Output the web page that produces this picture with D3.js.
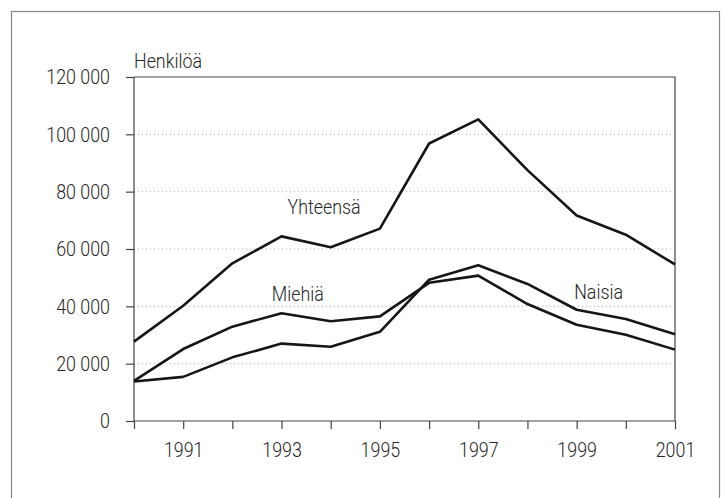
<!DOCTYPE html>
<html>
<head>
<meta charset="utf-8">
<script src="https://cdn.jsdelivr.net/npm/d3@7"></script>
<style>
  body { margin: 0; background: #fff; }
  text { font-family: Roboto, "Noto Sans", sans-serif; font-weight: 300; fill: #262626; }
</style>
</head>
<body>
<script>
// Data
var years = [1990, 1991, 1992, 1993, 1994, 1995, 1996, 1997, 1998, 1999, 2000, 2001];
var yhteensa = [27700, 40200, 55000, 64400, 60600, 67100, 96800, 105200, 87500, 71700, 65000, 54600];
var miehia = [14000, 25100, 32900, 37600, 34800, 36500, 48200, 50700, 40800, 33600, 30100, 24900];
var naisia = [13800, 15400, 22200, 27000, 25900, 31100, 49300, 54300, 47800, 38800, 35600, 30300];
var yTicks = [0, 20000, 40000, 60000, 80000, 100000, 120000];
var xLabelYears = [1991, 1993, 1995, 1997, 1999, 2001];

var seriesLabels = [
  { name: "Yhteensä", year: 1993.12, value: 72200 },
  { name: "Miehiä", year: 1992.8, value: 42000 },
  { name: "Naisia", year: 1998.95, value: 42400 }
];

var svgWidth = 724, svgHeight = 498;
var margin = { top: 77, right: 49, bottom: 77, left: 134 };
var width = svgWidth - margin.left - margin.right;
var height = svgHeight - margin.top - margin.bottom;
var squeeze = 0.85;

var svg = d3.select("body").append("svg")
  .attr("width", svgWidth)
  .attr("height", svgHeight);

// outer frame
svg.append("rect")
  .attr("x", 11.5).attr("y", 11.5)
  .attr("width", 708).attr("height", 500)
  .attr("fill", "none")
  .attr("stroke", "#888")
  .attr("stroke-width", 1.2);

var chartGroup = svg.append("g")
  .attr("transform", `translate(${margin.left}, ${margin.top})`);

var xScale = d3.scaleLinear().domain([1990, 2001]).range([0, width]);
var yScale = d3.scaleLinear().domain([0, 120000]).range([height, 0]);

// gridlines
chartGroup.selectAll(".grid")
  .data(yTicks.filter(d => d > 0 && d < 120000))
  .enter().append("line")
  .attr("class", "grid")
  .attr("x1", 0).attr("x2", width)
  .attr("y1", d => yScale(d)).attr("y2", d => yScale(d))
  .attr("stroke", "#aaa")
  .attr("stroke-width", 1)
  .attr("stroke-dasharray", "1,3");

// plot frame (top and right)
chartGroup.append("path")
  .attr("d", `M0,0H${width}V${height}`)
  .attr("fill", "none")
  .attr("stroke", "#444")
  .attr("stroke-width", 1.2);

// Axes
var fmt = d => d3.format(",")(d).replace(/,/g, " ");
var yAxis = d3.axisLeft(yScale).tickValues(yTicks).tickSize(8).tickPadding(16).tickFormat(fmt);
var xAxis = d3.axisBottom(xScale).tickValues(years).tickSize(8).tickPadding(13)
  .tickFormat(d => xLabelYears.indexOf(d) >= 0 ? d : "");

var gy = chartGroup.append("g").attr("class", "y-axis").call(yAxis);
var gx = chartGroup.append("g").attr("class", "x-axis")
  .attr("transform", `translate(0, ${height})`).call(xAxis);

[gx, gy].forEach(function(g) {
  g.attr("font-family", null).attr("font-size", null);
  g.select(".domain").attr("stroke", "#444").attr("stroke-width", 1.2);
  g.selectAll(".tick line").attr("stroke", "#444").attr("stroke-width", 1.2);
  g.selectAll("text").attr("font-size", 21).attr("fill", "#262626");
});
gx.select(".domain").attr("d", `M0,0H${width}`);
gy.select(".domain").attr("d", `M0,${height}V0`);

// Lines
var line = d3.line()
  .x((d, i) => xScale(years[i]))
  .y(d => yScale(d));

[yhteensa, miehia, naisia].forEach(function(s) {
  chartGroup.append("path")
    .datum(s)
    .attr("d", line)
    .attr("fill", "none")
    .attr("stroke", "#161616")
    .attr("stroke-width", 2.6)
    .attr("stroke-linejoin", "round");
});

// Series labels
chartGroup.selectAll(".series-label")
  .data(seriesLabels)
  .enter().append("text")
  .attr("class", "series-label")
  .attr("x", d => xScale(d.year))
  .attr("y", d => yScale(d.value))
  .attr("font-size", 21)
  .text(d => d.name);

// unit label
chartGroup.append("text")
  .attr("x", 0)
  .attr("y", -9)
  .attr("font-size", 21)
  .text("Henkilöä");

// condense all text horizontally (narrow typeface look)
svg.selectAll("text").each(function() {
  var t = d3.select(this);
  if (!t.text()) return;
  var len = this.getComputedTextLength();
  t.attr("textLength", len * squeeze).attr("lengthAdjust", "spacingAndGlyphs");
});
</script>
</body>
</html>
